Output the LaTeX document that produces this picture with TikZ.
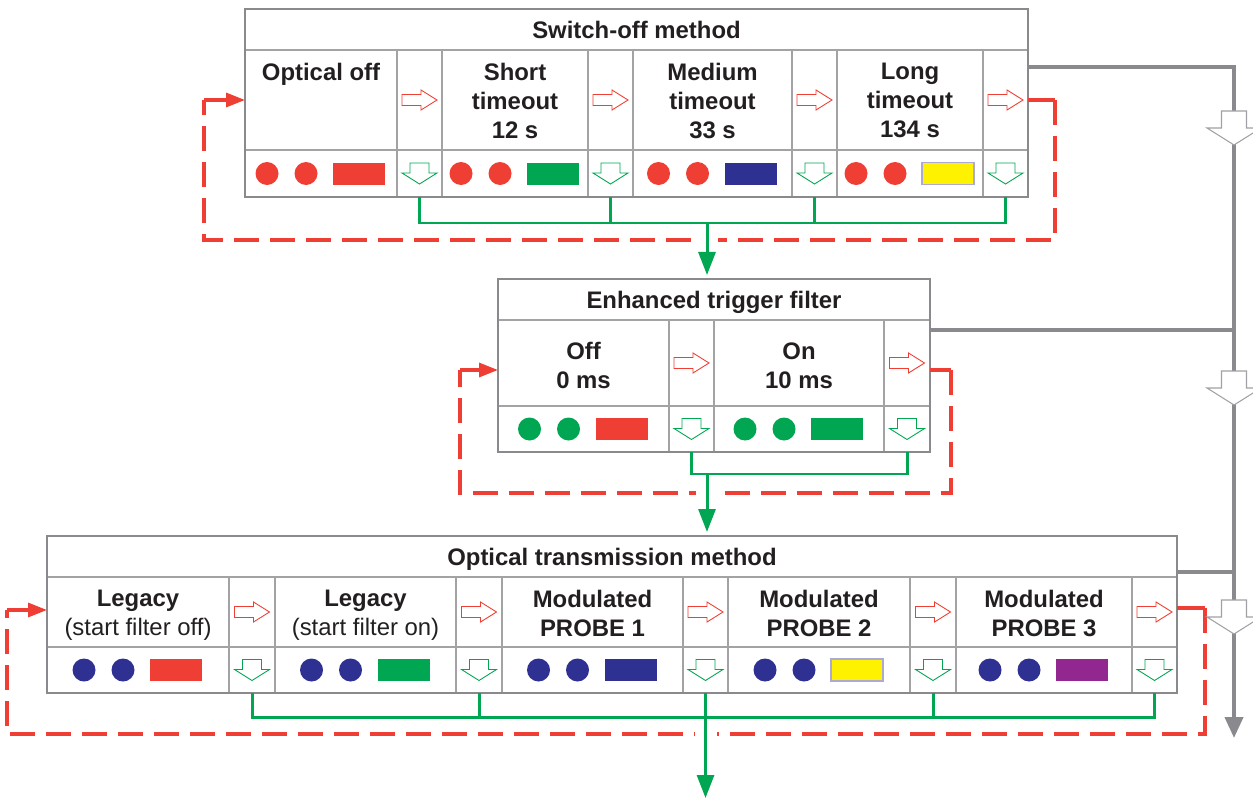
\documentclass[tikz,border=0pt]{standalone}
\usepackage{fontspec}
\setmainfont{Liberation Sans}
\usepackage{tikz}
\usetikzlibrary{positioning,arrows.meta}

\definecolor{sored}{RGB}{239,62,51}
\definecolor{sogreen}{RGB}{0,166,81}
\definecolor{soblue}{RGB}{46,49,146}
\definecolor{soyellow}{RGB}{255,242,0}
\definecolor{solav}{RGB}{172,170,212}
\definecolor{sopurple}{RGB}{146,39,143}
\definecolor{framegray}{RGB}{137,137,142}
\definecolor{gridgray}{RGB}{163,163,166}
\definecolor{ink}{RGB}{35,31,32}

\begin{document}
\begin{tikzpicture}[x=0.2mm, y=-0.2mm, text=ink,
    font=\fontsize{13.6}{16.5}\selectfont,
    cell/.style={draw=gridgray, line width=0.9pt, inner sep=0pt, outer sep=0pt},
    titlebox/.style={cell, anchor=north west, minimum height=8.2mm, text height=9.7pt, text depth=0pt,
      font=\fontsize{13.6}{16.5}\selectfont\bfseries},
    lbl/.style={align=center, inner sep=0pt, font=\fontsize{13.6}{16.5}\selectfont\bfseries},
    stepcell/.style={cell, minimum width=#1, path picture={
        \draw[sored, line width=0.5pt, fill=white, shift={(path picture bounding box.center)}]
          (-17.5,-5.5) -- (1.5,-5.5) -- (1.5,-10) -- (17.5,0) -- (1.5,10) -- (1.5,5.5) -- (-17.5,5.5) -- cycle;}},
    stepcell/.default=9mm,
    dropcell/.style={cell, minimum width=#1, path picture={
        \draw[sogreen, line width=0.5pt, fill=white, shift={(path picture bounding box.center)}]
          (-9.5,-10.5) -- (9.5,-10.5) -- (9.5,-0.5) -- (17.5,-0.5) -- (0,10.5) -- (-17.5,-0.5) -- (-9.5,-0.5) -- cycle;}},
    dropcell/.default=9mm,
    dotcell/.style 2 args={cell, path picture={
        \fill[#1, shift={(path picture bounding box.center)}] (-54,0) circle[radius=2.3mm] (-15,0) circle[radius=2.3mm];
        \path[#2, line width=1pt, shift={(path picture bounding box.center)}] (12,-11) rectangle (64,11);}},
    frame/.style={draw=framegray, line width=1.4pt},
    bus/.style={sogreen, line width=1.7pt},
    busend/.style={bus, -{Triangle[length=4.6mm, width=3.4mm]}},
    knock/.style={white, line width=4.4mm, shorten <=2mm, shorten >=2mm},
    redln/.style={sored, line width=1.8pt},
    redloop/.style={redln, dash pattern=on 5mm off 2.2mm},
    redend/.style={redln, -{Triangle[length=3.8mm, width=2.8mm]}},
    grayln/.style={framegray, line width=2.3pt},
    flowarr/.style={draw=framegray!80, fill=white, line width=0.6pt}
  ]
  \useasboundingbox (0,0) rectangle (1253,798);
  \clip (0,0) rectangle (1253,798);

  % switch-off method
  \node[titlebox, minimum width=156.6mm] (som) at (245,9) {Switch-off method};
  \begin{scope}[rowa/.style={minimum height=20mm}, rowb/.style={minimum height=9.4mm}]
    \node[cell, rowa, minimum width=30.4mm, anchor=north west] (so1) at (som.south west) {};
    \node[stepcell, rowa, right=0pt of so1] (so2) {};
    \node[cell, rowa, minimum width=29.2mm, right=0pt of so2] (so3) {};
    \node[stepcell, rowa, right=0pt of so3] (so4) {};
    \node[cell, rowa, minimum width=31.8mm, right=0pt of so4] (so5) {};
    \node[stepcell, rowa, right=0pt of so5] (so6) {};
    \node[cell, rowa, minimum width=29.2mm, right=0pt of so6] (so7) {};
    \node[stepcell, rowa, right=0pt of so7] (so8) {};
    \node[dotcell={sored}{fill=sored}, rowb, minimum width=30.4mm, below=0pt of so1] (so1b) {};
    \node[dropcell, rowb, below=0pt of so2] (so2b) {};
    \node[dotcell={sored}{fill=sogreen}, rowb, minimum width=29.2mm, below=0pt of so3] (so3b) {};
    \node[dropcell, rowb, below=0pt of so4] (so4b) {};
    \node[dotcell={sored}{fill=soblue}, rowb, minimum width=31.8mm, below=0pt of so5] (so5b) {};
    \node[dropcell, rowb, below=0pt of so6] (so6b) {};
    \node[dotcell={sored}{fill=soyellow, draw=solav}, rowb, minimum width=29.2mm, below=0pt of so7] (so7b) {};
    \node[dropcell, rowb, below=0pt of so8] (so8b) {};
  \end{scope}
  \node[lbl, below=2.6mm of so1.north] (so1t) {Optical off};
  \node[lbl, below=2.6mm of so3.north] (so3t) {Short\\timeout\\12 s};
  \node[lbl, below=2.6mm of so5.north] (so5t) {Medium\\timeout\\33 s};
  \node[lbl, below=2.6mm of so7.north] (so7t) {Long\\timeout\\134 s};
  \draw[frame] (som.north west) rectangle (so8b.south east);

  % enhanced trigger filter
  \node[titlebox, minimum width=86.4mm] (etf) at (498,279) {Enhanced trigger filter};
  \begin{scope}[rowa/.style={minimum height=17.2mm}, rowb/.style={minimum height=9.2mm}]
    \node[cell, rowa, minimum width=34.2mm, anchor=north west] (e1) at (etf.south west) {};
    \node[stepcell, rowa, right=0pt of e1] (e2) {};
    \node[cell, rowa, minimum width=34mm, right=0pt of e2] (e3) {};
    \node[stepcell=9.2mm, rowa, right=0pt of e3] (e4) {};
    \node[dotcell={sogreen}{fill=sored}, rowb, minimum width=34.2mm, below=0pt of e1] (e1b) {};
    \node[dropcell, rowb, below=0pt of e2] (e2b) {};
    \node[dotcell={sogreen}{fill=sogreen}, rowb, minimum width=34mm, below=0pt of e3] (e3b) {};
    \node[dropcell=9.2mm, rowb, below=0pt of e4] (e4b) {};
  \end{scope}
  \node[lbl, below=4.4mm of e1.north] (e1t) {Off\\0 ms};
  \node[lbl, below=4.4mm of e3.north] (e3t) {On\\10 ms};
  \draw[frame] (etf.north west) rectangle (e4b.south east);

  % optical transmission method
  \node[titlebox, minimum width=226mm] (otm) at (47,536) {Optical transmission method};
  \begin{scope}[rowa/.style={minimum height=14mm}, rowb/.style={minimum height=9.2mm}]
    \node[cell, rowa, minimum width=36.4mm, anchor=north west] (ot1) at (otm.south west) {};
    \node[stepcell=9.2mm, rowa, right=0pt of ot1] (ot2) {};
    \node[cell, rowa, minimum width=36.2mm, right=0pt of ot2] (ot3) {};
    \node[stepcell=9.2mm, rowa, right=0pt of ot3] (ot4) {};
    \node[cell, rowa, minimum width=36.2mm, right=0pt of ot4] (ot5) {};
    \node[stepcell, rowa, right=0pt of ot5] (ot6) {};
    \node[cell, rowa, minimum width=36.4mm, right=0pt of ot6] (ot7) {};
    \node[stepcell=9.2mm, rowa, right=0pt of ot7] (ot8) {};
    \node[cell, rowa, minimum width=35.2mm, right=0pt of ot8] (ot9) {};
    \node[stepcell, rowa, right=0pt of ot9] (ot10) {};
    \node[dotcell={soblue}{fill=sored}, rowb, minimum width=36.4mm, below=0pt of ot1] (ot1b) {};
    \node[dropcell=9.2mm, rowb, below=0pt of ot2] (ot2b) {};
    \node[dotcell={soblue}{fill=sogreen}, rowb, minimum width=36.2mm, below=0pt of ot3] (ot3b) {};
    \node[dropcell=9.2mm, rowb, below=0pt of ot4] (ot4b) {};
    \node[dotcell={soblue}{fill=soblue}, rowb, minimum width=36.2mm, below=0pt of ot5] (ot5b) {};
    \node[dropcell, rowb, below=0pt of ot6] (ot6b) {};
    \node[dotcell={soblue}{fill=soyellow, draw=solav}, rowb, minimum width=36.4mm, below=0pt of ot7] (ot7b) {};
    \node[dropcell=9.2mm, rowb, below=0pt of ot8] (ot8b) {};
    \node[dotcell={soblue}{fill=sopurple}, rowb, minimum width=35.2mm, below=0pt of ot9] (ot9b) {};
    \node[dropcell, rowb, below=0pt of ot10] (ot10b) {};
  \end{scope}
  \node[lbl, below=2.6mm of ot1.north] (ot1t) {Legacy\\{\mdseries(start filter off)}};
  \node[lbl, below=2.6mm of ot3.north] (ot3t) {Legacy\\{\mdseries(start filter on)}};
  \node[lbl, below=2.6mm of ot5.north] (ot5t) {Modulated\\PROBE 1};
  \node[lbl, below=2.6mm of ot7.north] (ot7t) {Modulated\\PROBE 2};
  \node[lbl, below=2.6mm of ot9.north] (ot9t) {Modulated\\PROBE 3};
  \draw[frame] (otm.north west) rectangle (ot10b.south east);

  % red loops back to the first setting
  \coordinate (sol) at ([xshift=-8.2mm]so1.west);
  \draw[redln] (so8.east) -- ++(27,0) coordinate (sor);
  \draw[redloop] (sor) -- ++(0,140) -| (sol);
  \draw[redend] (sol) -- (so1.west);
  \coordinate (el) at ([xshift=-7.6mm,yshift=-1.4mm]e1.west);
  \draw[redln] ([yshift=-1.4mm]e4.east) -- ++(21,0) coordinate (er);
  \draw[redloop] (er) -- ++(0,123) -| (el);
  \draw[redend] (el) -- ([yshift=-1.4mm]e1.west);
  \coordinate (otl) at ([xshift=-8mm,yshift=0.4mm]ot1.west);
  \draw[redln] ([yshift=0.8mm]ot10.east) -- ++(28,0) coordinate (otr);
  \draw[redloop] (otr) -- ++(0,126) -| (otl);
  \draw[redend] (otl) -- ([yshift=0.4mm]ot1.west);

  % green buses
  \coordinate (sohub) at (707,223);
  \coordinate (ehub) at (707,474);
  \draw[knock] (sohub) -- (sohub |- etf.north);
  \draw[knock] (ehub) -- (ehub |- otm.north);
  \draw[knock] (ot6b.south) -- ++(0,105);
  \draw[bus] (so2b.south) -- ++(0,26) -| (so8b.south);
  \draw[bus] (so4b.south) -- ++(0,26);
  \draw[bus] (so6b.south) -- ++(0,26);
  \draw[busend, shorten >=0.8mm] (sohub) -- (sohub |- etf.north);
  \draw[bus] (e2b.south) -- ++(0,22) -| (e4b.south);
  \draw[busend, shorten >=0.8mm] (ehub) -- (ehub |- otm.north);
  \draw[bus] (ot2b.south) -- ++(0,24) -| (ot10b.south);
  \draw[bus] (ot4b.south) -- ++(0,24);
  \draw[bus] (ot8b.south) -- ++(0,24);
  \draw[busend] (ot6b.south) -- ++(0,105);

  % gray flow on the right
  \coordinate (gend) at (1234,738);
  \coordinate (sojoin) at ([yshift=6.6mm]so8.east);
  \coordinate (ejoin) at ([yshift=6.6mm]e4.east);
  \coordinate (ojoin) at ([yshift=8mm]ot10.east);
  \draw[grayln, -{Triangle[length=4.2mm, width=3.6mm]}] (sojoin) -| (gend);
  \draw[grayln] (ejoin) -- (ejoin -| gend);
  \draw[grayln] (ojoin) -- (ojoin -| gend);
  \foreach \y in {128,388,617}
    \filldraw[flowarr, shift={(1234,\y)}] (-12.5,-17) -- (12.5,-17) -- (12.5,0) -- (27,0) -- (0,17) -- (-27,0) -- (-12.5,0) -- cycle;
\end{tikzpicture}
\end{document}
